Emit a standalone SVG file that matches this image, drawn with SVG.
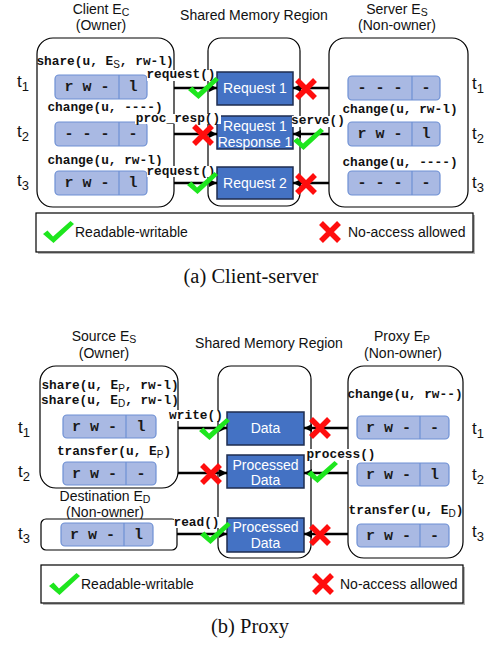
<svg xmlns="http://www.w3.org/2000/svg" xmlns:xlink="http://www.w3.org/1999/xlink" width="487" height="645" viewBox="0 0 487 645">
<style>
.sans{font-family:"Liberation Sans",Arial,sans-serif;fill:#111;}
.hdr{font-size:14px;text-anchor:middle;}
.tl{font-size:17px;}
.mono{font-family:"Liberation Mono","Courier New",monospace;font-weight:bold;font-size:12.8px;fill:#111;}
.mid{text-anchor:middle;}
.perm{font-family:"Liberation Mono","Courier New",monospace;font-weight:bold;font-size:15px;fill:#1a1a1a;text-anchor:middle;}
.ent{fill:#fff;stroke:#000;stroke-width:1.2;}
.pb{fill:#a9b9e3;stroke:#6e90d4;stroke-width:1.2;}
.pd{stroke:#6e90d4;stroke-width:1.2;}
.mem{fill:#4472c4;stroke:#1e2d4f;stroke-width:1.5;}
.memt{font-family:"Liberation Sans",Arial,sans-serif;font-size:14px;fill:#fff;text-anchor:middle;}
.conn{stroke:#000;stroke-width:2.5;fill:none;}
.lbg{fill:#fff;}
.cap{font-family:"Liberation Serif","Times New Roman",serif;font-size:20.5px;fill:#111;text-anchor:middle;}
.sub{font-family:"Liberation Sans",Arial,sans-serif;font-weight:normal;font-size:10px;}
.hs{font-size:10.5px;}
</style>
<defs>
<marker id="ah" viewBox="0 0 10 10" refX="10" refY="5" markerWidth="8" markerHeight="8" markerUnits="userSpaceOnUse" orient="auto"><path d="M0,0 L10,5 L0,10 z" fill="#000"/></marker>
<g id="check"><path d="M0,13 L4.5,9.5 L10,15.5 L27.5,0 L31,3 L10.5,22 Z" fill="#1ee61e"/></g>
<g id="cross"><path d="M2,2 L20,20 M20,2 L2,20" stroke="#ff0d0d" stroke-width="5.5" fill="none"/></g>
</defs>
<rect width="487" height="645" fill="#fff"/>

<!-- ===== (a) Client-server ===== -->
<g id="client">
<text class="sans hdr" x="101" y="14">Client E<tspan class="hs" dy="2">C</tspan></text>
<text class="sans hdr" x="101" y="30">(Owner)</text>
<rect class="ent" x="37" y="38" width="137" height="169" rx="16"/>
<text class="mono mid" x="105" y="65">share(u, E<tspan class="sub" dy="3">S</tspan><tspan dy="-3">, rw-l)</tspan></text>
<rect class="pb" x="55" y="75" width="92" height="24" rx="4"/><line class="pd" x1="119" y1="75" x2="119" y2="99"/>
<text class="perm" x="87" y="91">r w -</text><text class="perm" x="133" y="91">l</text>
<text class="mono mid" x="105" y="111">change(u, ----)</text>
<rect class="pb" x="55" y="122" width="92" height="24" rx="4"/><line class="pd" x1="119" y1="122" x2="119" y2="146"/>
<text class="perm" x="87" y="138">- - -</text><text class="perm" x="133" y="138">-</text>
<text class="mono mid" x="105" y="164">change(u, rw-l)</text>
<rect class="pb" x="55" y="171" width="92" height="24" rx="4"/><line class="pd" x1="119" y1="171" x2="119" y2="195"/>
<text class="perm" x="87" y="187">r w -</text><text class="perm" x="133" y="187">l</text>
</g>
<g id="shared-a">
<text class="sans hdr" x="254" y="20">Shared Memory Region</text>
<rect class="ent" x="208" y="38" width="92" height="168" rx="13"/>
<rect class="mem" x="217" y="72" width="76" height="33"/>
<text class="memt" x="255" y="93">Request 1</text>
<rect class="mem" x="217" y="116" width="76" height="33"/>
<text class="memt" x="255" y="131">Request 1</text>
<text class="memt" x="255" y="147">Response 1</text>
<rect class="mem" x="217" y="167" width="76" height="32"/>
<text class="memt" x="255" y="188">Request 2</text>
</g>
<g id="server">
<text class="sans hdr" x="397" y="14">Server E<tspan class="hs" dy="2">S</tspan></text>
<text class="sans hdr" x="397" y="30">(Non-owner)</text>
<rect class="ent" x="329" y="38" width="139" height="169" rx="16"/>
<rect class="pb" x="348" y="76" width="92" height="24" rx="4"/><line class="pd" x1="412" y1="76" x2="412" y2="100"/>
<text class="perm" x="380" y="92">- - -</text><text class="perm" x="426" y="92">-</text>
<text class="mono mid" x="400" y="113">change(u, rw-l)</text>
<rect class="pb" x="348" y="122" width="92" height="24" rx="4"/><line class="pd" x1="412" y1="122" x2="412" y2="146"/>
<text class="perm" x="380" y="138">r w -</text><text class="perm" x="426" y="138">l</text>
<text class="mono mid" x="400" y="166">change(u, ----)</text>
<rect class="pb" x="348" y="171" width="92" height="24" rx="4"/><line class="pd" x1="412" y1="171" x2="412" y2="195"/>
<text class="perm" x="380" y="187">- - -</text><text class="perm" x="426" y="187">-</text>
</g>
<g id="times-a">
<text class="sans tl" x="17" y="87">t<tspan dy="4" font-size="13">1</tspan></text>
<text class="sans tl" x="17" y="137">t<tspan dy="4" font-size="13">2</tspan></text>
<text class="sans tl" x="17" y="186">t<tspan dy="4" font-size="13">3</tspan></text>
<text class="sans tl" x="472" y="89">t<tspan dy="4" font-size="13">1</tspan></text>
<text class="sans tl" x="472" y="139">t<tspan dy="4" font-size="13">2</tspan></text>
<text class="sans tl" x="472" y="188">t<tspan dy="4" font-size="13">3</tspan></text>
</g>
<g id="connectors-a">
<line class="conn" x1="174" y1="88" x2="217" y2="88" marker-end="url(#ah)"/>
<line class="conn" x1="174" y1="134" x2="217" y2="134" marker-end="url(#ah)"/>
<line class="conn" x1="174" y1="183" x2="217" y2="183" marker-end="url(#ah)"/>
<line class="conn" x1="329" y1="88" x2="293" y2="88" marker-end="url(#ah)"/>
<line class="conn" x1="329" y1="134" x2="293" y2="134" marker-end="url(#ah)"/>
<line class="conn" x1="329" y1="183" x2="293" y2="183" marker-end="url(#ah)"/>
<rect class="lbg" x="147" y="70" width="68" height="11"/>
<text class="mono mid" x="181" y="78">request()</text>
<rect class="lbg" x="135" y="114" width="86" height="10"/>
<text class="mono mid" x="178" y="122">proc_resp()</text>
<rect class="lbg" x="147" y="166" width="68" height="11"/>
<text class="mono mid" x="181" y="175">request()</text>
<rect class="lbg" x="292" y="116" width="52" height="11"/>
<text class="mono mid" x="318" y="124">serve()</text>
<use href="#check" x="188" y="77"/>
<use href="#cross" x="192" y="124"/>
<use href="#check" x="187" y="172"/>
<use href="#cross" x="295" y="78"/>
<use href="#check" x="293" y="128"/>
<use href="#cross" x="295" y="173"/>
</g>
<g id="legend-a">
<rect x="38" y="215" width="437" height="39" fill="#b5b5b5"/>
<rect x="36" y="213" width="437" height="39" fill="#fff" stroke="#000" stroke-width="1.2"/>
<use href="#check" x="43" y="221"/>
<text class="sans" font-size="14" x="75" y="237">Readable-writable</text>
<use href="#cross" x="319" y="221"/>
<text class="sans" font-size="14" x="348" y="237">No-access allowed</text>
</g>
<text class="cap" x="251" y="283">(a) Client-server</text>

<!-- ===== (b) Proxy ===== -->
<g id="source">
<text class="sans hdr" x="104" y="341">Source E<tspan class="hs" dy="2">S</tspan></text>
<text class="sans hdr" x="104" y="358">(Owner)</text>
<rect class="ent" x="40" y="366" width="138" height="122" rx="16"/>
<text class="mono mid" x="110" y="389">share(u, E<tspan class="sub" dy="3">P</tspan><tspan dy="-3">, rw-l)</tspan></text>
<text class="mono mid" x="110" y="404">share(u, E<tspan class="sub" dy="3">D</tspan><tspan dy="-3">, rw-l)</tspan></text>
<rect class="pb" x="63" y="415" width="93" height="23" rx="4"/><line class="pd" x1="126" y1="415" x2="126" y2="438"/>
<text class="perm" x="94.5" y="431">r w -</text><text class="perm" x="141" y="431">l</text>
<text class="mono mid" x="114" y="455">transfer(u, E<tspan class="sub" dy="3">P</tspan><tspan dy="-3">)</tspan></text>
<rect class="pb" x="63" y="462" width="93" height="23" rx="4"/><line class="pd" x1="126" y1="462" x2="126" y2="485"/>
<text class="perm" x="94.5" y="478">r w -</text><text class="perm" x="141" y="478">-</text>
</g>
<g id="destination">
<text class="sans hdr" x="105" y="501">Destination E<tspan class="hs" dy="2">D</tspan></text>
<text class="sans hdr" x="105" y="517">(Non-owner)</text>
<rect class="ent" x="41" y="519" width="136" height="31" rx="5"/>
<rect class="pb" x="61" y="523" width="92" height="23" rx="4"/><line class="pd" x1="124" y1="523" x2="124" y2="546"/>
<text class="perm" x="92.5" y="539">r w -</text><text class="perm" x="138.5" y="539">l</text>
</g>
<g id="shared-b">
<text class="sans hdr" x="269" y="348">Shared Memory Region</text>
<rect class="ent" x="218" y="366" width="93" height="192" rx="13"/>
<rect class="mem" x="227" y="412" width="77" height="33"/>
<text class="memt" x="265.5" y="433">Data</text>
<rect class="mem" x="227" y="455" width="77" height="33"/>
<text class="memt" x="265.5" y="470">Processed</text>
<text class="memt" x="265.5" y="485">Data</text>
<rect class="mem" x="227" y="518" width="77" height="34"/>
<text class="memt" x="265.5" y="532">Processed</text>
<text class="memt" x="265.5" y="548">Data</text>
</g>
<g id="proxy">
<text class="sans hdr" x="402" y="341">Proxy E<tspan class="hs" dy="2">P</tspan></text>
<text class="sans hdr" x="403" y="358">(Non-owner)</text>
<rect class="ent" x="348" y="366" width="115" height="192" rx="16"/>
<text class="mono mid" x="405" y="398">change(u, rw--)</text>
<rect class="pb" x="357" y="416" width="92" height="23" rx="4"/><line class="pd" x1="420" y1="416" x2="420" y2="439"/>
<text class="perm" x="388.5" y="432">r w -</text><text class="perm" x="434.5" y="432">-</text>
<rect class="pb" x="357" y="463" width="92" height="23" rx="4"/><line class="pd" x1="420" y1="463" x2="420" y2="486"/>
<text class="perm" x="388.5" y="479">r w -</text><text class="perm" x="434.5" y="479">l</text>
<text class="mono mid" x="406" y="514">transfer(u, E<tspan class="sub" dy="3">D</tspan><tspan dy="-3">)</tspan></text>
<rect class="pb" x="357" y="524" width="92" height="23" rx="4"/><line class="pd" x1="420" y1="524" x2="420" y2="547"/>
<text class="perm" x="388.5" y="540">r w -</text><text class="perm" x="434.5" y="540">-</text>
</g>
<g id="times-b">
<text class="sans tl" x="18" y="433">t<tspan dy="4" font-size="13">1</tspan></text>
<text class="sans tl" x="18" y="477">t<tspan dy="4" font-size="13">2</tspan></text>
<text class="sans tl" x="18" y="539">t<tspan dy="4" font-size="13">3</tspan></text>
<text class="sans tl" x="472" y="434">t<tspan dy="4" font-size="13">1</tspan></text>
<text class="sans tl" x="472" y="480">t<tspan dy="4" font-size="13">2</tspan></text>
<text class="sans tl" x="472" y="537">t<tspan dy="4" font-size="13">3</tspan></text>
</g>
<g id="connectors-b">
<line class="conn" x1="178" y1="428" x2="227" y2="428" marker-end="url(#ah)"/>
<line class="conn" x1="178" y1="473" x2="227" y2="473" marker-end="url(#ah)"/>
<line class="conn" x1="177" y1="534" x2="227" y2="534" marker-end="url(#ah)"/>
<line class="conn" x1="348" y1="428" x2="304" y2="428" marker-end="url(#ah)"/>
<line class="conn" x1="348" y1="473" x2="304" y2="473" marker-end="url(#ah)"/>
<line class="conn" x1="348" y1="534" x2="304" y2="534" marker-end="url(#ah)"/>
<rect class="lbg" x="169" y="410" width="54" height="11"/>
<text class="mono mid" x="196" y="419">write()</text>
<rect class="lbg" x="306" y="449" width="70" height="11"/>
<text class="mono mid" x="341" y="458">process()</text>
<rect class="lbg" x="174" y="517" width="45" height="11"/>
<text class="mono mid" x="196.5" y="526">read()</text>
<use href="#check" x="199" y="418"/>
<use href="#cross" x="200" y="463"/>
<use href="#check" x="200" y="522"/>
<use href="#cross" x="309" y="417"/>
<use href="#check" x="307" y="461"/>
<use href="#cross" x="309" y="524"/>
</g>
<g id="legend-b">
<rect x="43" y="567" width="422" height="38" fill="#b5b5b5"/>
<rect x="41" y="565" width="422" height="38" fill="#fff" stroke="#000" stroke-width="1.2"/>
<use href="#check" x="49" y="573"/>
<text class="sans" font-size="14" x="81" y="589">Readable-writable</text>
<use href="#cross" x="312" y="573"/>
<text class="sans" font-size="14" x="340" y="589">No-access allowed</text>
</g>
<text class="cap" x="250" y="633">(b) Proxy</text>
</svg>
